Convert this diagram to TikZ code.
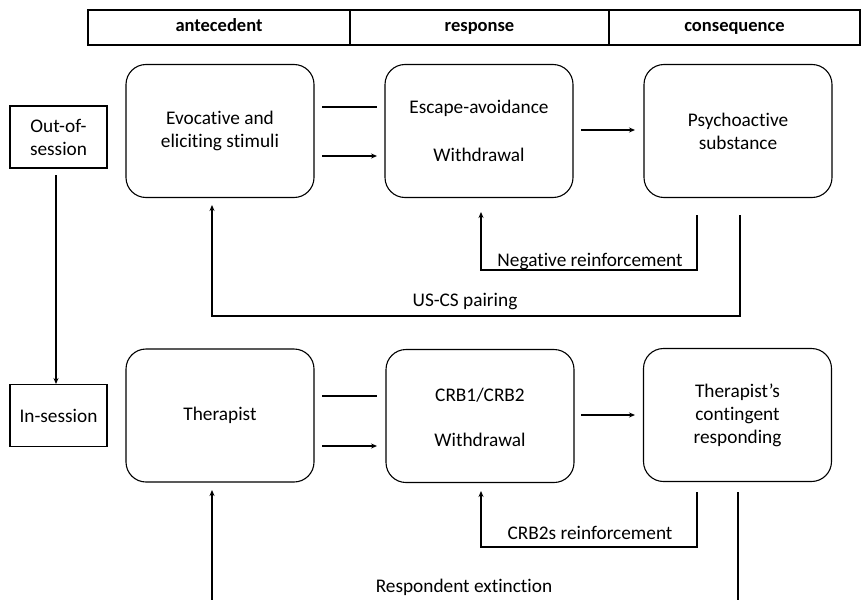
\documentclass[tikz,border=0pt]{standalone}
\usepackage{fontspec}
\setmainfont[Ligatures=NoCommon]{Carlito}
\usetikzlibrary{arrows.meta}
\begin{document}
\begin{tikzpicture}[x=1pt,y=-1pt,
  every node/.style={font=\fontsize{19.3}{23}\selectfont, align=center},
  rbox/.style={draw, line width=1.1pt, rounded corners=20pt, minimum width=188pt, minimum height=133pt, inner sep=0pt},
  sbox/.style={draw, line width=1.1pt, minimum width=97pt, minimum height=62pt, inner sep=0pt},
  hcell/.style={draw, line width=1.1pt, minimum height=35pt, inner sep=0pt, text height=13pt, text depth=4pt, font=\fontsize{18.5}{22}\selectfont\bfseries},
  conn/.style={line width=1.1pt},
  arr/.style={line width=1.1pt, -{Stealth[length=6pt,width=5pt]}},
  lbl/.style={inner sep=0pt}
]
\useasboundingbox (0,0) rectangle (861,599);
\clip (0,0) rectangle (861,599);
% header
\node[hcell, minimum width=262pt] (h1) at (219,27.5) {antecedent};
\node[hcell, minimum width=259pt] (h2) at (479.5,27.5) {response};
\node[hcell, minimum width=251pt] (h3) at (734.5,27.5) {consequence};
% session boxes
\node[sbox] (out) at (58.5,137) {Out-of-\\session};
\node[sbox] (in) at (58.5,415.5) {In-session};
% top row
\node[rbox] (a1) at (220,131) {Evocative and\\eliciting stimuli};
\node[rbox] (r1) at (479,131) {};
\node[lbl] at (479,108) {Escape-avoidance};
\node[lbl] at (479,155) {Withdrawal};
\node[rbox] (c1) at (738,131) {Psychoactive\\substance};
% bottom row
\node[rbox] (a2) at (220,415.5) {Therapist};
\node[rbox] (r2) at (480,416) {};
\node[lbl] at (480,395) {CRB1/CRB2};
\node[lbl] at (480,440) {Withdrawal};
\node[rbox] (c2) at (737.5,415) {Therapist’s\\contingent\\responding};
% coordinates
\coordinate (t1a) at (322,107); \coordinate (t1b) at (377,107);
\coordinate (t2a) at (322,156); \coordinate (t2b) at (377,156);
\coordinate (t3a) at (581,130); \coordinate (t3b) at (635,130);
\coordinate (b1a) at (322,396); \coordinate (b1b) at (377,396);
\coordinate (b2a) at (322,446); \coordinate (b2b) at (377,446);
\coordinate (b3a) at (581,415); \coordinate (b3b) at (635,415);
\draw[conn] (t1a) -- (t1b);
\draw[arr] (t2a) -- (t2b);
\draw[arr] (t3a) -- (t3b);
\draw[conn] (b1a) -- (b1b);
\draw[arr] (b2a) -- (b2b);
\draw[arr] (b3a) -- (b3b);
% session arrow
\coordinate (s1) at (56,175);
\coordinate (s2) at (56,384);
\draw[arr] (s1) -- (s2);
% negative reinforcement loop
\coordinate (n1) at (697,215); \coordinate (n2) at (697,270); \coordinate (n3) at (481,270); \coordinate (n4) at (481,212);
\draw[arr] (n1) -- (n2) -- (n3) -- (n4);
\node[lbl] (nl) at (590,262) {Negative reinforcement};
% US-CS loop
\coordinate (u1) at (740,215); \coordinate (u2) at (740,316); \coordinate (u3) at (212,316); \coordinate (u4) at (212,205);
\draw[arr] (u1) -- (u2) -- (u3) -- (u4);
\node[lbl] (ul) at (465,302) {US-CS pairing};
% CRB2s loop
\coordinate (k1) at (697,492); \coordinate (k2) at (697,547); \coordinate (k3) at (481,547); \coordinate (k4) at (481,491);
\draw[arr] (k1) -- (k2) -- (k3) -- (k4);
\node[lbl] (kl) at (590,533) {CRB2s reinforcement};
% respondent extinction
\coordinate (e1) at (738,492); \coordinate (e2) at (738,620);
\coordinate (e3) at (212,620); \coordinate (e4) at (212,490);
\draw[conn] (e1) -- (e2);
\draw[arr] (e3) -- (e4);
\node[lbl] (el) at (464,587) {Respondent extinction};
\end{tikzpicture}
\end{document}
